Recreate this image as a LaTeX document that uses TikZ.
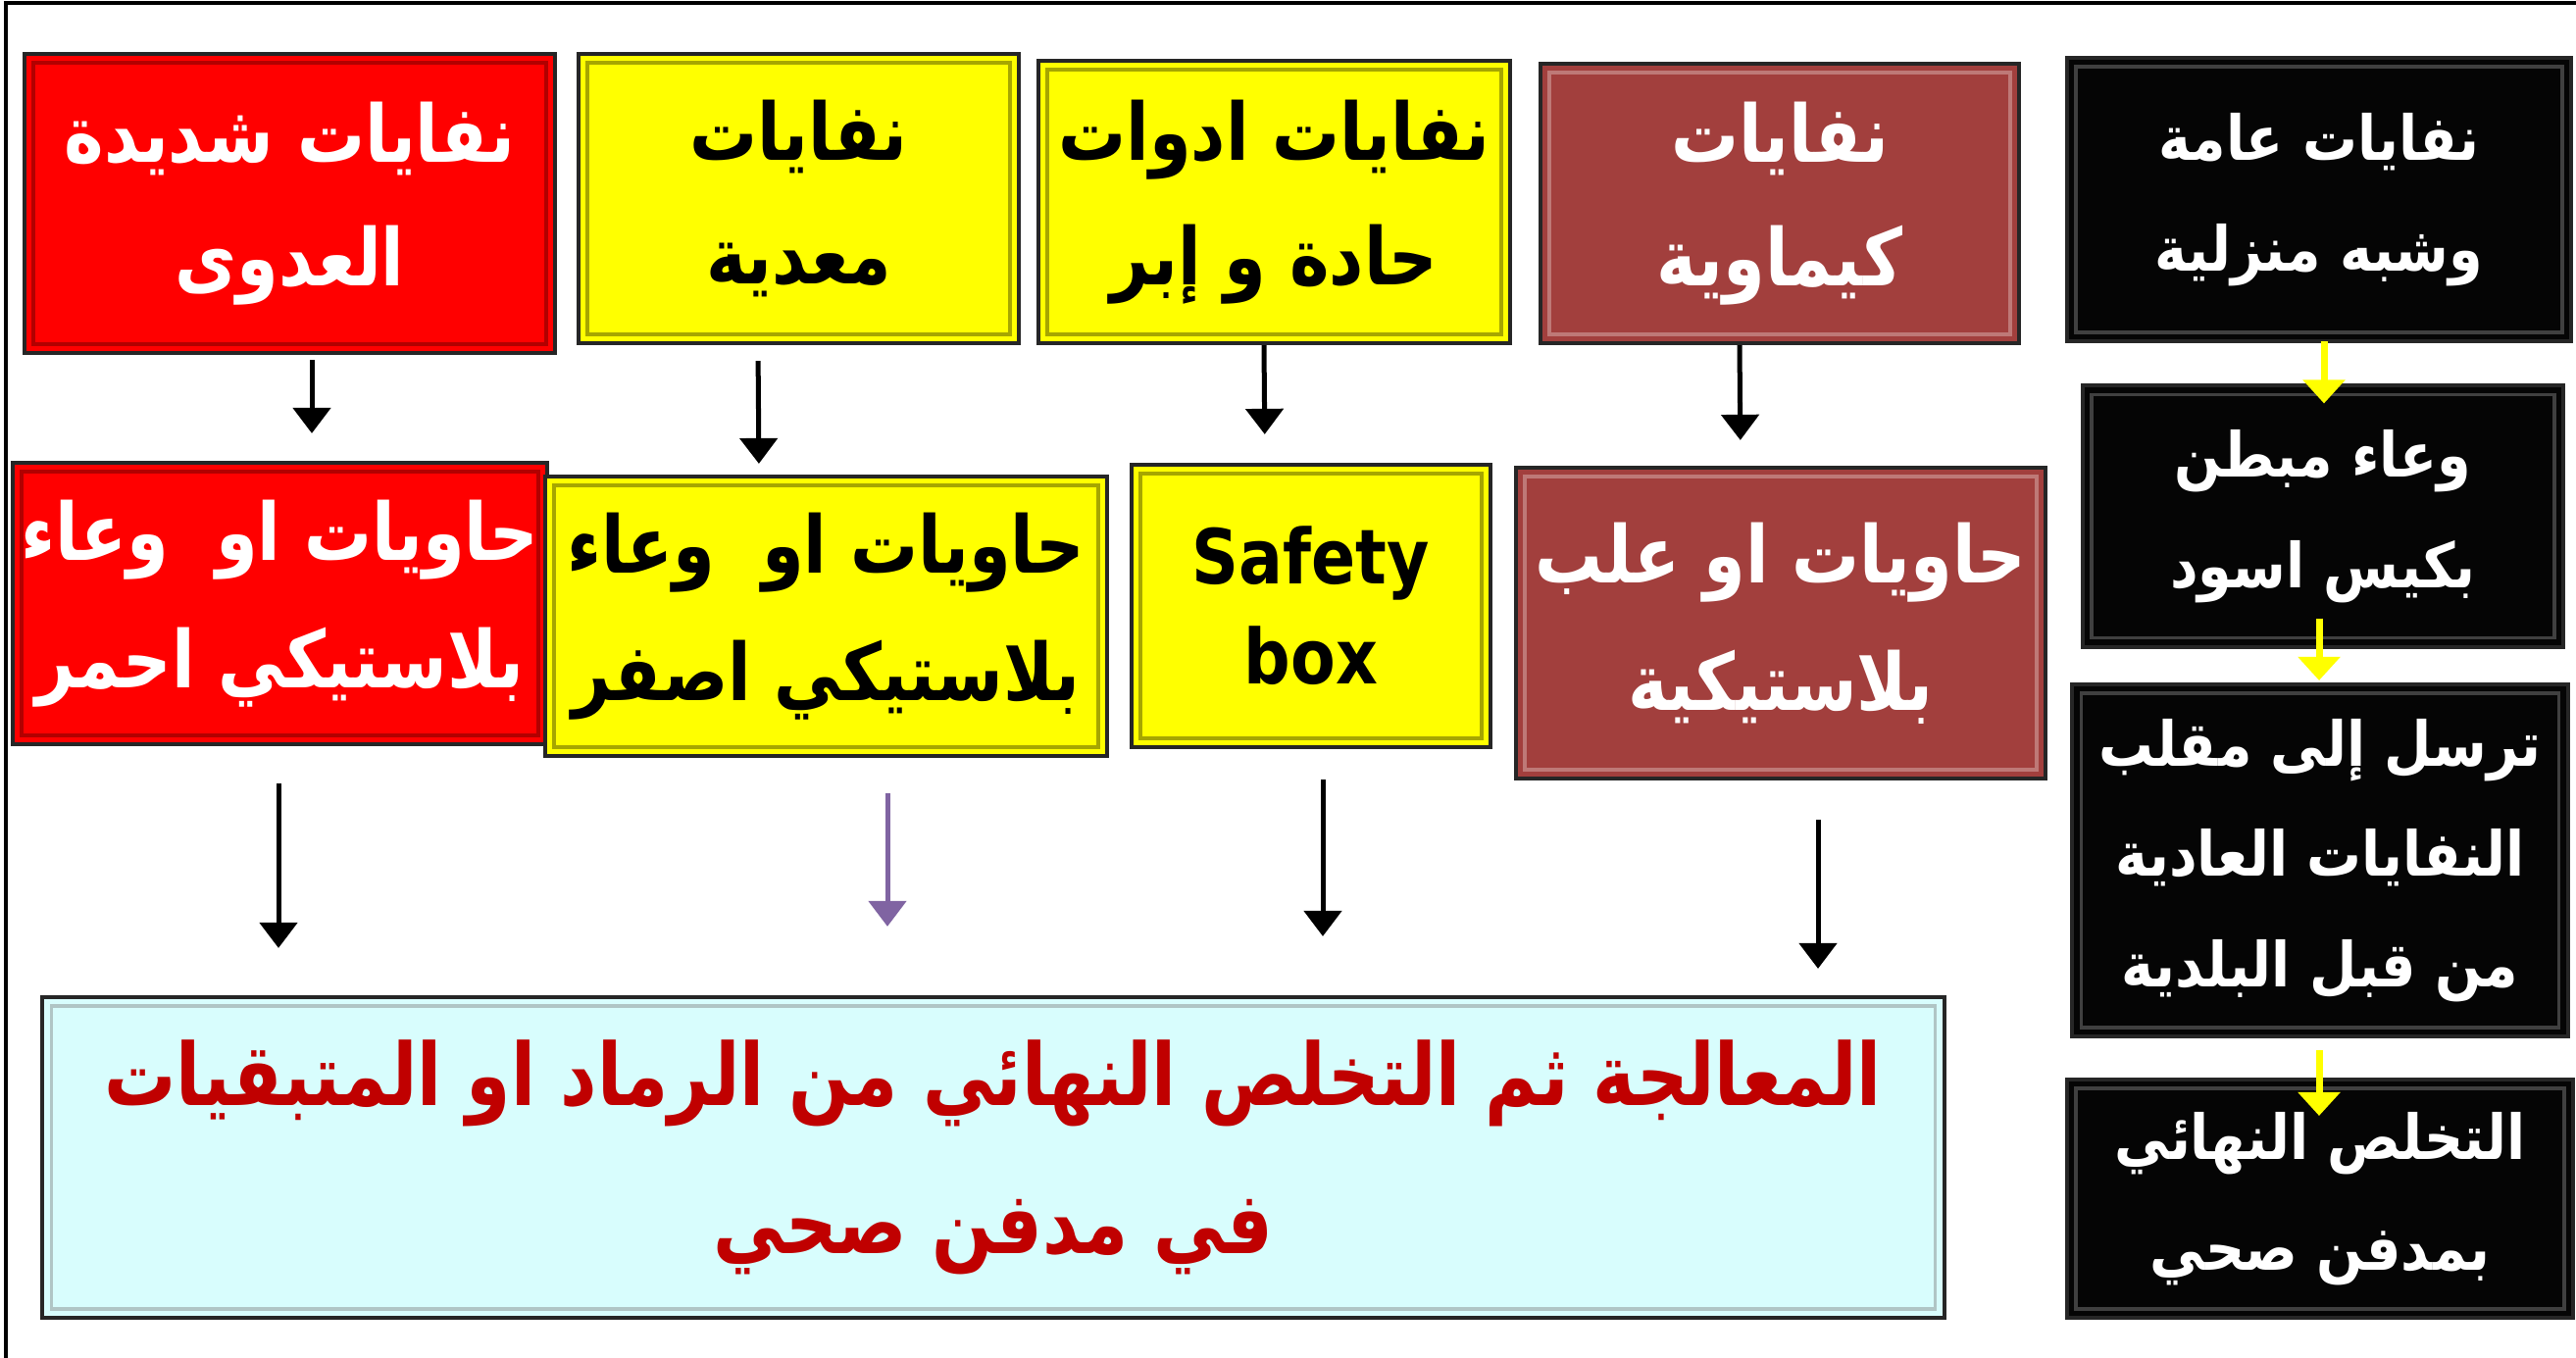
\documentclass[tikz,border=0pt]{standalone}
\usepackage{fontspec}
\usetikzlibrary{arrows.meta,calc}
\TeXXeTstate=1
\newfontfamily\arabicfont[Script=Arabic, FakeStretch=0.85]{DejaVu Sans}
\newfontfamily\arabicbot[Script=Arabic, FakeStretch=0.83]{DejaVu Sans}
\newfontfamily\arabicblk[Script=Arabic, FakeStretch=0.88]{DejaVu Sans}
\newfontfamily\latinbold[FakeStretch=0.86]{DejaVu Sans}
\newcommand\AR[1]{\beginR#1\endR}
\definecolor{cred}{RGB}{255,0,0}
\definecolor{cyel}{RGB}{255,255,0}
\definecolor{cbrown}{RGB}{162,63,61}
\definecolor{cblack}{RGB}{5,5,5}
\definecolor{ccyan}{RGB}{216,253,253}
\definecolor{ctext}{RGB}{192,0,0}
\definecolor{cpurple}{RGB}{128,100,162}
\tikzset{
  box/.style={draw=black!85, line width=0.04cm, inner sep=0pt, align=center},
  bevel/.style={path picture={\draw[line width=0.035cm,#1]
      ([shift={(0.09cm,-0.09cm)}]path picture bounding box.north west) rectangle
      ([shift={(-0.09cm,0.09cm)}]path picture bounding box.south east);}},
  redbox/.style={box, fill=cred, bevel=cred!70!black, text=white},
  yelbox/.style={box, fill=cyel, bevel=cyel!65!black, text=black},
  brownbox/.style={box, fill=cbrown, bevel=cbrown!70!white, text=white},
  blackbox/.style={box, fill=cblack, bevel=white!25!black, text=white,
      font=\arabicblk\bfseries\fontsize{18pt}{32pt}\selectfont},
  topfont/.style={font=\arabicfont\bfseries\fontsize{23pt}{36pt}\selectfont},
  rowfont/.style={font=\arabicfont\bfseries\fontsize{23pt}{37pt}\selectfont},
  arr/.style={-{Triangle[width=0.38cm,length=0.26cm]}, line width=0.05cm, black},
  parr/.style={arr, cpurple},
  yarr/.style={-{Triangle[width=0.42cm,length=0.24cm]}, line width=0.07cm, cyel},
}
\begin{document}
\begin{tikzpicture}[x=0.01cm, y=-0.01cm]
\useasboundingbox (0,0) rectangle (2627,1385);
\draw[line width=0.04cm] (6,1385) -- (6,3) -- (2627,3);

% top row
\node[redbox, topfont, minimum width=5.41cm, minimum height=3.05cm] (r1) at (295.5,207.5)
  {\AR{نفايات شديدة}\\\AR{العدوى}};
\node[yelbox, topfont, minimum width=4.49cm, minimum height=2.95cm] (y1) at (814.5,202.5)
  {\AR{نفايات}\\\AR{معدية}};
\node[yelbox, topfont, minimum width=4.81cm, minimum height=2.88cm] (y2) at (1299.5,206)
  {\AR{نفايات ادوات}\\\AR{حادة و إبر}};
\node[brownbox, topfont, minimum width=4.88cm, minimum height=2.85cm] (b1) at (1815,207.5)
  {\AR{نفايات}\\\AR{كيماوية}};
\node[blackbox, minimum width=5.14cm, minimum height=2.89cm] (k1) at (2365,203.5)
  {\AR{نفايات عامة}\\\AR{وشبه منزلية}};

% second row
\node[redbox, rowfont, minimum width=5.45cm, minimum height=2.87cm] (r2) at (285.5,615.5)
  {\AR{حاويات او\ \ وعاء}\\\AR{بلاستيكي احمر}};
\node[yelbox, rowfont, minimum width=5.73cm, minimum height=2.85cm] (y3) at (842.5,628.5)
  {\AR{حاويات او\ \ وعاء}\\\AR{بلاستيكي اصفر}};
\node[yelbox, font=\latinbold\bfseries\fontsize{22pt}{29pt}\selectfont,
  minimum width=3.66cm, minimum height=2.88cm] (y4) at (1337,618)
  {Safety\\box};
\node[brownbox, rowfont, minimum width=5.40cm, minimum height=3.17cm] (b2) at (1816,635.5)
  {\AR{حاويات او علب}\\\AR{بلاستيكية}};

% black column
\node[blackbox, minimum width=4.90cm, minimum height=2.66cm] (k2) at (2369,526.5)
  {\AR{وعاء مبطن}\\\AR{بكيس اسود}};
\node[blackbox, minimum width=5.05cm, minimum height=3.59cm] (k3) at (2366,877.5)
  {\AR{ترسل إلى مقلب}\\\AR{النفايات العادية}\\\AR{من قبل البلدية}};
\node[blackbox, minimum width=5.16cm, minimum height=2.43cm] (k4) at (2366,1222.5)
  {\AR{التخلص النهائي}\\\AR{بمدفن صحي}};

% bottom box
\node[box, fill=ccyan, bevel=ccyan!55!gray, text=ctext,
  font=\arabicbot\bfseries\fontsize{25pt}{43pt}\selectfont,
  minimum width=19.38cm, minimum height=3.27cm] (bot) at (1013,1180.5)
  {\AR{المعالجة ثم التخلص النهائي من الرماد او المتبقيات}\\\AR{في مدفن صحي}};

% arrows top -> second row
\draw[arr, shorten <=0.05cm, shorten >=0.28cm] (318,0 |- r1.south) -- (318,0 |- r2.north);
\draw[arr, shorten <=0.16cm, shorten >=0.11cm] (773,0 |- y1.south) -- (774,0 |- y3.north);
\draw[arr, shorten >=0.29cm] (1289,0 |- y2.south) -- (1290,0 |- y4.north);
\draw[arr, shorten >=0.26cm] (1774,0 |- b1.south) -- (1775,0 |- b2.north);

% arrows second row -> bottom box
\draw[arr, shorten <=0.38cm, shorten >=0.48cm] (284,0 |- r2.south) -- (284,0 |- bot.north);
\draw[parr, shorten <=0.36cm, shorten >=0.70cm] (905,0 |- y3.south) -- (905,0 |- bot.north);
\draw[arr, shorten <=0.31cm, shorten >=0.60cm] (1349,0 |- y4.south) -- (1349,0 |- bot.north);
\draw[arr, shorten <=0.40cm, shorten >=0.27cm] (1854,0 |- b2.south) -- (1854,0 |- bot.north);

% yellow arrows in black column
\draw[yarr, shorten <=-0.02cm, shorten >=-0.20cm] (2370,0 |- k1.south) -- (2370,0 |- k2.north);
\draw[yarr, shorten <=-0.31cm, shorten >=0.02cm] (2365,0 |- k2.south) -- (2365,0 |- k3.north);
\draw[yarr, shorten <=0.12cm, shorten >=-0.39cm] (2365,0 |- k3.south) -- (2365,0 |- k4.north);
\end{tikzpicture}
\end{document}
